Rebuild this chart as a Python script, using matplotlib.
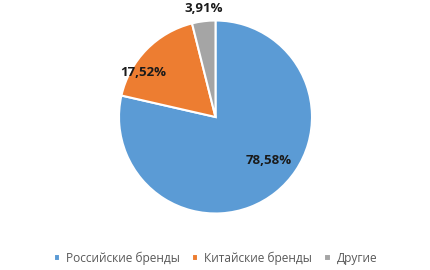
import matplotlib.pyplot as plt

plt.rcParams['font.family'] = ['Open Sans', 'DejaVu Sans']

labels = ["Российские бренды", "Китайские бренды", "Другие"]
values = [78.58, 17.52, 3.91]
value_text = ["78,58%", "17,52%", "3,91%"]
colors = ["#5B9BD5", "#ED7D31", "#A5A5A5"]
# label positions (axes data units, pie radius = 1)
label_pos = [(0.55, -0.45), (-0.75, 0.46), (-0.12, 1.12)]

fig = plt.figure(figsize=(4.31, 2.70), dpi=100)
ax = fig.add_axes([119 / 431, 1 - 213.5 / 270, 193 / 431, 193 / 270])

wedges, _ = ax.pie(values, colors=colors, startangle=90, counterclock=False,
                   radius=1, wedgeprops=dict(edgecolor="white", linewidth=1.5))
ax.set_xlim(-1, 1)
ax.set_ylim(-1, 1)
ax.set_aspect("equal")
ax.axis("off")

for txt, (x, y) in zip(value_text, label_pos):
    ax.text(x, y, txt, ha="center", va="center", fontsize=9.5,
            fontweight="bold", color="#1a1a1a", clip_on=False)

fig.legend(wedges, labels, loc="center", bbox_to_anchor=(0.5, 1 - 258 / 270),
           ncol=3, frameon=False, fontsize=8.6, labelcolor="#595959",
           handlelength=0.55, handleheight=0.55, handletextpad=0.5,
           columnspacing=1.0)

fig.savefig("out.png", dpi=100)
